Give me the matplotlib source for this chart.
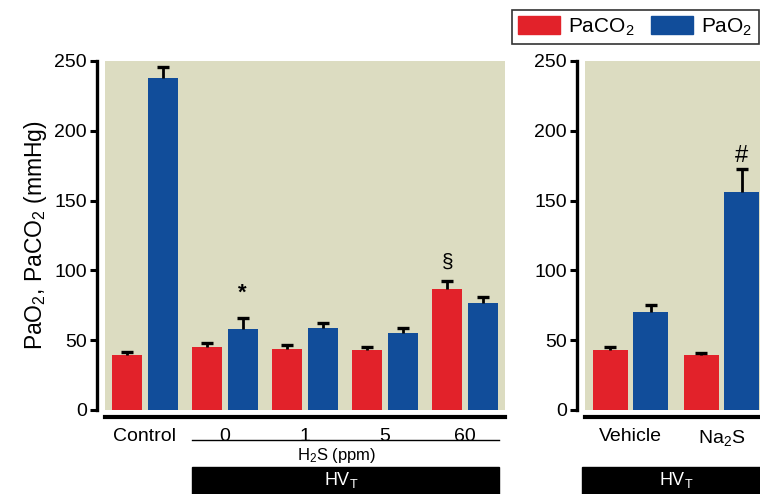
import matplotlib
matplotlib.use("Agg")
import matplotlib.pyplot as plt
import matplotlib.transforms as mtransforms
from matplotlib.patches import Rectangle, Patch
import numpy as np

plt.rcParams['font.family'] = ['Liberation Sans', 'DejaVu Sans']
plt.rcParams['mathtext.fontset'] = 'custom'
plt.rcParams['mathtext.rm'] = 'Liberation Sans'
plt.rcParams['mathtext.default'] = 'regular'

# left panel: control + H2S doses
left_labels = ['Control', '0', '1', '5', '60']
left_paco2 = [39.4, 44.9, 43.9, 42.7, 86.9]
left_paco2_err = [2.0, 3.3, 2.7, 2.2, 5.7]
left_pao2 = [238, 58.2, 58.7, 55.4, 76.9]
left_pao2_err = [8, 7.9, 3.3, 3.3, 4.3]

# right panel: vehicle vs Na2S
right_labels = ['Vehicle', 'Na$_2$S']
right_paco2 = [42.8, 39.3]
right_paco2_err = [2.5, 1.7]
right_pao2 = [70.4, 156.5]
right_pao2_err = [5.0, 15.8]

red = '#e2222a'
blue = '#114d9a'
bg = '#dcdcc1'

W, H = 760, 494
fig = plt.figure(figsize=(W / 100, H / 100), dpi=100)

def px_axes(x0, x1, ytop, ybot):
    return fig.add_axes([x0 / W, 1 - ybot / H, (x1 - x0) / W, (ybot - ytop) / H])

ax1 = px_axes(105, 505, 61, 410)
ax2 = px_axes(585, 767, 61, 410)

off = 0.22
bw = 0.375
ekw = dict(elinewidth=2, capsize=4, capthick=2.4, ecolor='black')

def draw(ax, labels, co2, co2e, o2, o2e):
    x = np.arange(len(labels))
    for xs, vals, errs, col in [(x - off, co2, co2e, red), (x + off, o2, o2e, blue)]:
        bars = ax.bar(xs, vals, bw, color=col, yerr=[np.zeros(len(x)), errs], error_kw=ekw, zorder=2)
        # keep only the upper cap
        bars.errorbar.lines[1][0].set_visible(False)
    ax.set_facecolor(bg)
    ax.set_xlim(-0.5, len(labels) - 0.5)
    ax.set_ylim(0, 250)
    ax.set_yticks([0, 50, 100, 150, 200, 250])
    ax.set_xticks(x)
    ax.set_xticklabels(labels)
    for s in ['top', 'right']:
        ax.spines[s].set_visible(False)
    ax.spines['left'].set_position(('outward', 6))
    ax.spines['left'].set_linewidth(2.4)
    ax.spines['bottom'].set_position(('outward', 5))
    ax.spines['bottom'].set_linewidth(3)
    ax.tick_params(axis='y', length=5, width=2.2, labelsize=14, pad=2)
    ax.tick_params(axis='x', length=0, labelsize=14, pad=8)
    return x

draw(ax1, left_labels, left_paco2, left_paco2_err, left_pao2, left_pao2_err)
draw(ax2, right_labels, right_paco2, right_paco2_err, right_pao2, right_pao2_err)

ax1.set_ylabel('PaO$_2$, PaCO$_2$ (mmHg)', fontsize=16.5, labelpad=4)

# significance marks
ax1.text(1 + off, 76, '*', ha='center', va='bottom', fontsize=16, fontweight='bold')
ax1.text(4 - off, 99, '§', ha='center', va='bottom', fontsize=15)
ax2.text(1 + off, 174, '#', ha='center', va='bottom', fontsize=17)

# H2S dose bracket and HVT bars
tr1 = mtransforms.blended_transform_factory(ax1.transData, ax1.transAxes)
ax1.plot([0.59, 4.43], [-0.087, -0.087], color='black', lw=1, transform=tr1, clip_on=False)
ax1.text(2.4, -0.102, 'H$_2$S (ppm)', ha='center', va='top', fontsize=12, transform=tr1)
ax1.add_patch(Rectangle((0.59, -0.26), 3.84, 0.097, transform=tr1, color='black', clip_on=False))
ax1.text(2.45, -0.2, 'HV$_\\mathrm{T}$', ha='center', va='center', fontsize=13, color='white', transform=tr1)

tr2 = mtransforms.blended_transform_factory(ax2.transData, ax2.transAxes)
ax2.add_patch(Rectangle((-0.53, -0.26), 2.1, 0.097, transform=tr2, color='black', clip_on=False))
ax2.text(0.5, -0.2, 'HV$_\\mathrm{T}$', ha='center', va='center', fontsize=13, color='white', transform=tr2)

handles = [Patch(color=red, label='PaCO$_2$'), Patch(color=blue, label='PaO$_2$')]
leg = fig.legend(handles=handles, loc='upper left', bbox_to_anchor=(512 / W, 1 - 10 / H),
                 ncol=2, fontsize=15, frameon=True, fancybox=False, edgecolor='black',
                 handlelength=2.0, handleheight=0.95, columnspacing=0.8, handletextpad=0.4,
                 borderpad=0.3, borderaxespad=0)
leg.get_frame().set_linewidth(1.2)

fig.savefig('out.png', dpi=100)
